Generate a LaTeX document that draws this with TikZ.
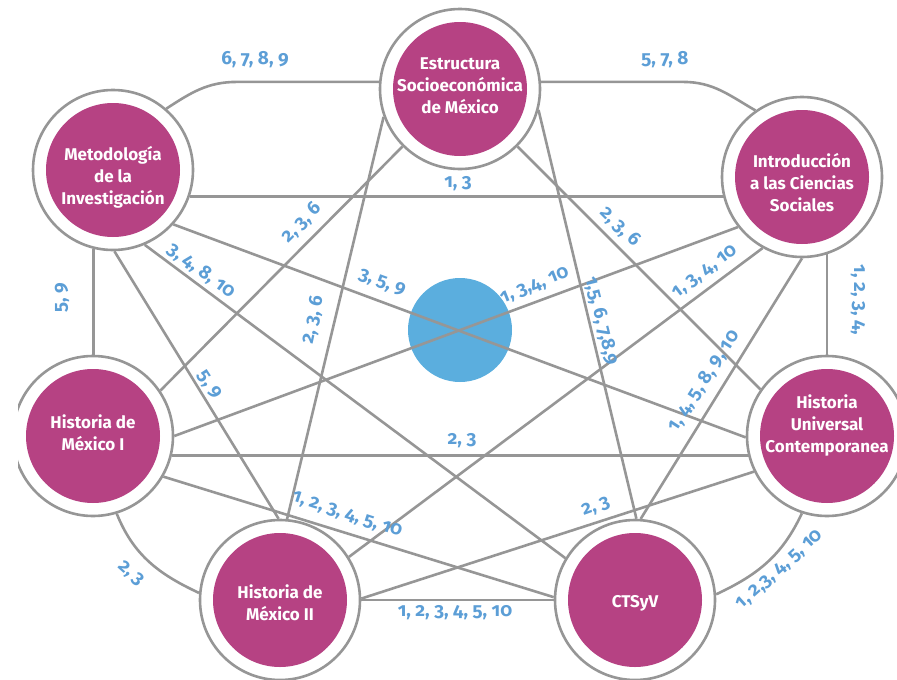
\documentclass[tikz,border=0pt]{standalone}
\usepackage{fontspec}
\setmainfont{Fira Sans}[Numbers=OldStyle]
\definecolor{mag}{RGB}{182,66,131}
\definecolor{lblue}{RGB}{92,158,214}
\definecolor{ball}{RGB}{91,174,222}
\definecolor{lgray}{RGB}{150,150,150}
\pgfdeclarelayer{bg}
\pgfdeclarelayer{edges}
\pgfsetlayers{bg,edges,main}
\begin{document}
\begin{tikzpicture}[x=1pt,y=1pt,
  subj/.style={circle, draw=lgray, line width=2.6pt, fill=white, minimum size=160pt, inner sep=0pt,
    path picture={\fill[mag] (path picture bounding box.center) circle[radius=67pt];}},
  subjtxt/.style={text=white, align=center, inner sep=0pt, font=\fontsize{17}{22}\selectfont\bfseries},
  conn/.style={draw=lgray, line width=2.6pt},
  lab/.style={text=lblue, font=\fontsize{19}{22}\selectfont\bfseries, inner sep=0pt}]
\useasboundingbox (0,0) rectangle (897,-680);
\clip (18,0) rectangle (897,-680);
% subject circles
\node[subj] (E)  at (460,-89)  {};
\node[subj] (M)  at (113,-170) {};
\node[subj] (I)  at (802,-177) {};
\node[subj] (H1) at (93,-436)  {};
\node[subj] (U)  at (827,-436) {};
\node[subj] (H2) at (280,-600) {};
\node[subj] (C)  at (635,-600) {};
% subject names
\node[subjtxt] (Et)  at ([yshift=3pt]E.center)  {Estructura\\Socioeconómica\\de México};
\node[subjtxt] (Mt)  at ([yshift=-7pt]M.center) {Metodología\\de la\\Investigación};
\node[subjtxt] (It)  at ([yshift=-6pt]I.center) {Introducción\\a las Ciencias\\Sociales};
\node[subjtxt] (H1t) at ([yshift=3pt]H1.center) {Historia de\\México I};
\node[subjtxt] (Ut)  at ([yshift=11pt]U.center) {Historia\\Universal\\Contemporanea};
\node[subjtxt] (H2t) at ([yshift=-3pt]H2.center) {Historia de\\México II};
\node[subjtxt] (Ct)  at ([yshift=-3pt]C.center) {CTSyV};
\coordinate (mc) at (237,-82);
\coordinate (ec) at (683,-82);
\begin{pgfonlayer}{bg}
\node[circle, fill=ball, minimum size=104pt, inner sep=0pt] (B) at (460,-330) {};
\end{pgfonlayer}
\begin{pgfonlayer}{edges}
\draw[conn] (M.49) to[out=33,in=180] (E.175 -| mc) -- (E.175);
\draw[conn] (E.5) -- (E.5 -| ec) to[out=0,in=150] (I.125);
\draw[conn] (M.-19) -- (M.-19 -| I.center);
\draw[conn] (M.-104.5) -- (M.-104.5 |- H1.center);
\draw[conn] (I.-72) -- (I.-72 |- U.center);
\draw[conn] (H1.-73) to[out=-68,in=155] (H2.175);
\draw[conn] (H2.0) -- (C.180);
\draw[conn] (C.4) to[out=25,in=-115] (U.-108);
\draw[conn] (M.-42.5) -- (U.181);
\draw[conn] (M.-67) -- (C.149);
\draw[conn] (M.-89) -- (H2.91.5);
\draw[conn] (E.225.5) -- (H1.34.5);
\draw[conn] (E.200) -- (H2.85);
\draw[conn] (E.-15) -- (C.89);
\draw[conn] (E.-45.5) -- (U.145);
\draw[conn] (I.218.5) -- (H1.0);
\draw[conn] (I.241) -- (H2.32);
\draw[conn] (I.-90) -- (C.86);
\draw[conn] (H1.-14.5) -- (H1.-14.5 -| U.center);
\draw[conn] (H1.-30) -- (C.178.6);
\draw[conn] (H2.1.4) -- (U.206.5);
\end{pgfonlayer}
% labels
\node[lab] (l1) at (255,-60) {6, 7, 8, 9};
\node[lab] (l2) at (665,-60) {5, 7, 8};
\node[lab] (l3) at (458,-184) {1, 3};
\node[lab, rotate=90] (l4) at (62,-298) {5, 9};
\node[lab, rotate=-90] (l5) at (858,-300) {1, 2, 3, 4,};
\node[lab, rotate=-36] (l6) at (201,-271) {3, 4, 8, 10};
\node[lab, rotate=-20] (l7) at (382,-283) {3, 5, 9};
\node[lab, rotate=45] (l8) at (302,-223) {2, 3, 6};
\node[lab, rotate=78] (l9) at (313,-320) {2, 3, 6};
\node[lab, rotate=22] (l10) at (535,-286) {1, 3,4, 10};
\node[lab, rotate=-76] (l11) at (601,-321) {1,5, 6, 7,8,9};
\node[lab, rotate=-45] (l12) at (620,-227) {2, 3, 6};
\node[lab, rotate=37] (l13) at (705,-272) {1, 3, 4, 10};
\node[lab, rotate=57] (l14) at (704,-381) {1, 4, 5, 8, 9, 10};
\node[lab, rotate=-57] (l15) at (209,-385) {5, 9};
\node[lab] (l16) at (462,-441) {2, 3};
\node[lab, rotate=-18] (l17) at (347,-515) {1, 2, 3, 4, 5, 10};
\node[lab, rotate=20] (l18) at (596,-507) {2, 3};
\node[lab, rotate=-42] (l19) at (131,-574) {2, 3};
\node[lab] (l20) at (455,-613) {1, 2, 3, 4, 5, 10};
\node[lab, rotate=42] (l21) at (780,-570) {1, 2,3, 4, 5, 10};
\end{tikzpicture}
\end{document}
